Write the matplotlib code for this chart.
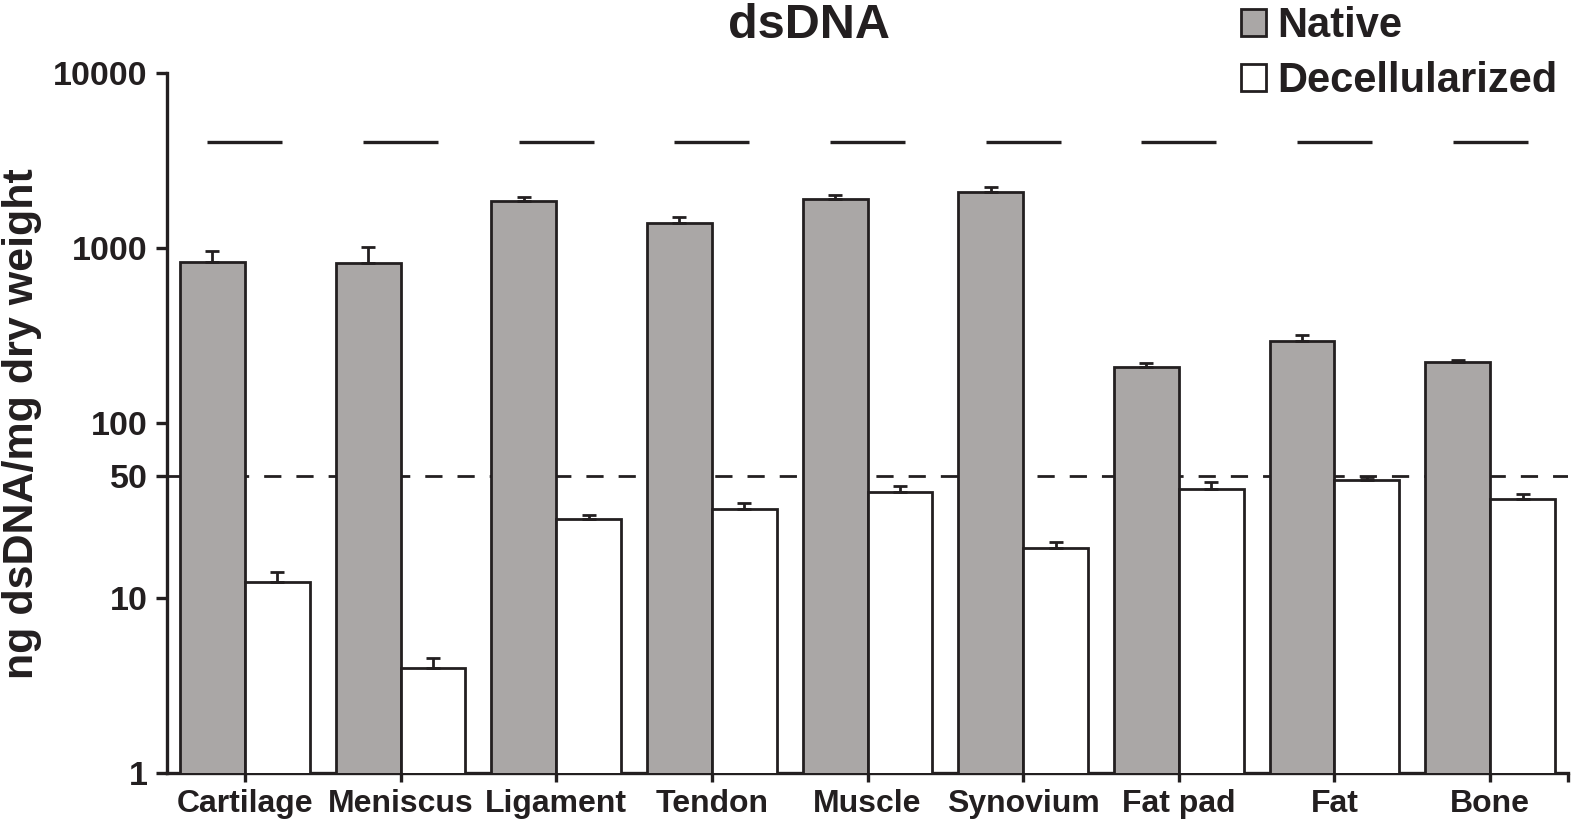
import matplotlib

matplotlib.use("Agg")

import matplotlib.pyplot as plt
import numpy as np
from matplotlib.patches import Patch
from matplotlib.ticker import FixedFormatter, FixedLocator, NullFormatter

# values (ng dsDNA / mg dry weight)
tissues = ["Cartilage", "Meniscus", "Ligament", "Tendon", "Muscle",
           "Synovium", "Fat pad", "Fat", "Bone"]
native_mean = [830, 818, 1856, 1395, 1905, 2099, 209, 295, 224]
native_err = [131, 192, 99, 102, 104, 141, 11, 25, 5]
decell_mean = [12.4, 4.0, 28.3, 32.3, 40.5, 19.2, 41.8, 47.2, 36.6]
decell_err = [1.7, 0.56, 1.5, 2.7, 3.1, 1.8, 4.0, 2.1, 2.7]
threshold = 50
sig_level = 4030
y_ticks = [1, 10, 50, 100, 1000, 10000]

INK = "#231f20"
GREY = "#aaa7a6"

plt.rcParams["font.family"] = ["Liberation Sans", "DejaVu Sans"]
plt.rcParams["font.weight"] = "bold"

fig = plt.figure(figsize=(15.8, 8.3), dpi=100)
ax = fig.add_axes([167 / 1580, 1 - 773 / 830, 1401 / 1580, 700 / 830])

x = np.arange(len(tissues))
w = 0.417
bar_kw = dict(edgecolor=INK, linewidth=2.0, align="edge", zorder=3)
ax.bar(x, native_mean, width=-w, color=GREY, label="Native", **bar_kw)
ax.bar(x, decell_mean, width=w, color="white", label="Decellularized", **bar_kw)

err_kw = dict(fmt="none", ecolor=INK, elinewidth=2.0, capsize=4.8,
              capthick=2.0, zorder=4)
ax.errorbar(x - w / 2, native_mean,
            yerr=[np.zeros(len(x)), native_err], **err_kw)
ax.errorbar(x + w / 2, decell_mean,
            yerr=[np.zeros(len(x)), decell_err], **err_kw)

# 50 ng threshold, sits behind the bars
ax.axhline(threshold, color=INK, linewidth=2.0, linestyle=(0, (6.2, 5.4)),
           zorder=1)

# significance bars above each pair
ax.hlines([sig_level] * len(x), x - 0.24, x + 0.24, color=INK,
          linewidth=2.4, zorder=3)

ax.set_yscale("log")
ax.set_ylim(1, 10000)
ax.set_xlim(-0.5, 8.5)
ax.yaxis.set_major_locator(FixedLocator(y_ticks))
ax.yaxis.set_major_formatter(FixedFormatter([str(t) for t in y_ticks]))
ax.yaxis.set_minor_locator(FixedLocator([]))
ax.yaxis.set_minor_formatter(NullFormatter())

ax.set_xticks(x)
ax.set_xticklabels(tissues, fontsize=23, fontweight="bold", color=INK)
ax.xaxis.set_minor_locator(FixedLocator([8.5]))

for s in ["top", "right"]:
    ax.spines[s].set_visible(False)
for s in ["left", "bottom"]:
    ax.spines[s].set_linewidth(2.4)
    ax.spines[s].set_color(INK)

ax.tick_params(axis="y", which="major", length=8, width=2.4, color=INK,
               labelsize=24.5, labelcolor=INK, pad=6)
ax.tick_params(axis="x", which="major", length=6.5, width=2.4, color=INK,
               pad=5)
ax.tick_params(axis="x", which="minor", length=6.5, width=2.4, color=INK)
for lbl in ax.get_yticklabels():
    lbl.set_fontweight("bold")

fig.text(22 / 1580, 1 - 424 / 830, "ng dsDNA/mg dry weight", rotation=90,
         ha="center", va="center", fontsize=31, fontweight="bold", color=INK)
fig.text(809 / 1580, 1 - 26 / 830, "dsDNA", ha="center", va="center",
         fontsize=35, fontweight="bold", color=INK)

handles = [Patch(facecolor=GREY, edgecolor=INK, linewidth=2.0, label="Native"),
           Patch(facecolor="white", edgecolor=INK, linewidth=2.0,
                 label="Decellularized")]
leg = fig.legend(handles=handles, loc="upper left",
                 bbox_to_anchor=(1241 / 1580, 1 - 6 / 830), frameon=False,
                 fontsize=30, handlelength=0.6, handleheight=0.6,
                 handletextpad=0.28, labelspacing=0.36, borderpad=0,
                 borderaxespad=0)
for t in leg.get_texts():
    t.set_fontweight("bold")
    t.set_color(INK)

fig.savefig("out.png", dpi=100)
